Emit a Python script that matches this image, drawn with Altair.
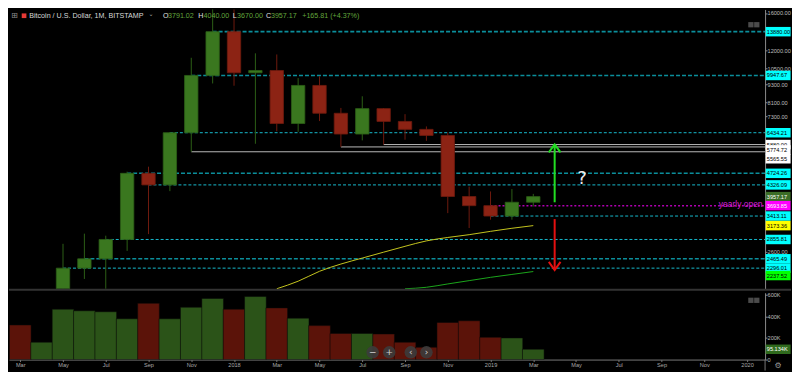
import altair as alt
import pandas as pd

# ---------------- data ----------------
candle_months = ["2017-05", "2017-06", "2017-07", "2017-08", "2017-09", "2017-10", "2017-11", "2017-12",
                 "2018-01", "2018-02", "2018-03", "2018-04", "2018-05", "2018-06", "2018-07", "2018-08",
                 "2018-09", "2018-10", "2018-11", "2018-12", "2019-01", "2019-02", "2019-03"]
opens = [1348, 2296.01, 2465.49, 2855.81, 4724.26, 4326.09, 6434.21, 9947.67,
         13880, 10150, 10330, 6900, 9220, 7460, 6370, 7730,
         7010, 6600, 6300, 3960, 3693.85, 3413.11, 3791.02]
highs = [2763, 2985, 2939, 4783, 4969, 6470, 11379, 19666,
         17176, 11770, 11670, 9750, 9890, 7770, 8490, 7760,
         7410, 6750, 6450, 4270, 4115, 4190, 4040]
lows = [1348, 2115, 1830, 2618, 2975, 4125, 5565.55, 9360,
        9200, 5915, 6510, 6480, 7030, 5774.72, 6070, 5880,
        6100, 6050, 3490, 3115, 3320, 3320, 3670]
closes = [2296.01, 2465.49, 2855.81, 4724.26, 4326.09, 6434.21, 9947.67, 13880,
          10150, 10330, 6900, 9220, 7460, 6370, 7730, 7010,
          6600, 6300, 3960, 3693.85, 3413.11, 3791.02, 3957.17]

vol_months = ["2017-03", "2017-04"] + candle_months
volumes = [320000, 161000, 466000, 451000, 442000, 377000, 520000, 377000, 484000, 565000,
           466000, 583000, 478000, 383000, 314000, 242000, 242000, 236000, 161000, 114000,
           343000, 359000, 206000, 200000, 95134]
vol_rising = [False, True] + [c >= o for o, c in zip(opens, closes)]

ma_yellow_months = ["2018-03", "2018-04", "2018-05", "2018-06", "2018-07", "2018-08", "2018-09",
                    "2018-10", "2018-11", "2018-12", "2019-01", "2019-02", "2019-03"]
ma_yellow = [1891, 2079, 2242, 2369, 2479, 2593, 2711, 2825, 2900, 2962, 3038, 3110, 3173.36]
ma_green_months = ["2018-09", "2018-10", "2018-11", "2018-12", "2019-01", "2019-02", "2019-03"]
ma_green = [1928, 1985, 2036, 2088, 2141, 2189, 2237.52]

level_prices = [13880, 9947.67, 6434.21, 4724.26, 4326.09, 3413.11, 2855.81, 2465.49, 2296.01]
level_start = ["2017-12", "2017-11", "2017-10", "2017-08", "2017-09", "2019-01", "2017-07", "2017-06", "2017-05"]
gray_prices = [5880, 5774.72, 5565.55]
gray_start = ["2018-08", "2018-06", "2017-11"]
yearly_open = 3693.85
yearly_open_start = "2019-01"

arrow_month = "2019-04"
arrow_from = [3790, 3335]
arrow_to = [5890, 2264]
question_price = 4520

price_ticks = [16000, 12000, 10500, 9300, 8100, 7300, 2600]
vol_ticks = [0, 200000, 400000, 600000]
x_tick_labels = ["Mar", "May", "Jul", "Sep", "Nov", "2018", "Mar", "May", "Jul", "Sep", "Nov",
                 "2019", "Mar", "May", "Jul", "Sep", "Nov", "2020"]

label_prices = [13880, 9947.67, 6434.21, 5880, 5774.72, 5565.55, 4724.26, 4326.09, 3957.17,
                3693.85, 3413.11, 3173.36, 2855.81, 2465.49, 2296.01, 2237.52]
label_kind = ["lvl", "lvl", "lvl", "gray", "gray", "gray", "lvl", "lvl", "last",
              "yopen", "lvl", "ma1", "lvl", "lvl", "lvl", "ma2"]

# ---------------- styles ----------------
W, HP, HV = 758, 280, 67
FONT = "Liberation Sans"
LBL = 5.6
UP, DOWN = "#3a771f", "#8c2314"
UP_EDGE, DOWN_EDGE = "#2c5e16", "#6e1a0e"
VUP, VDOWN = "#2b5318", "#5b1309"
heavy_levels = {13880, 9947.67, 4724.26, 2465.49}
box_style = {"lvl": ("#00ffff", "#000000"), "gray": ("#ffffff", "#000000"),
             "last": ("#3b6e27", "#ffffff"), "yopen": ("#ff00ff", "#ffffff"),
             "ma1": ("#ffff00", "#000000"), "ma2": ("#00ff00", "#000000")}
label_nudge = {5774.72: 3, 5565.55: 7, 2237.52: 4}
BOX = "M-1,-0.38L1,-0.38L1,0.38L-1,0.38Z"
BOX_SIZE = 625   # 25 px wide
BOX_X = 771.1
TXT_X = 759.8


def mi(m):
    y, mo = m.split("-")
    return (int(y) - 2017) * 12 + int(mo) - 3


XS = alt.Scale(domain=[-0.2935, 34.61], nice=False, zero=False)
PY = alt.Scale(type="log", domain=[1963, 16435], clamp=True, nice=False)
VY = alt.Scale(domain=[0, 618000], nice=False, zero=True)
XN = alt.X("i:Q", scale=XS, axis=None)

price_axis = alt.Axis(orient="right", values=price_ticks, format=".2f", labelFontSize=LBL,
                      labelColor="#bdbdbd", labelFont=FONT, tickSize=2, tickColor="#8a8a8a",
                      domainColor="#8a8a8a", labelPadding=0, grid=False, title=None,
                      labelOverlap=False, labelBaseline="middle", labelFlush=False)
vol_axis = alt.Axis(orient="right", values=vol_ticks,
                    labelExpr="datum.value == 0 ? '0' : format(datum.value/1000, 'd') + 'K'",
                    labelFontSize=LBL, labelColor="#bdbdbd", labelFont=FONT, tickSize=2,
                    tickColor="#8a8a8a", domainColor="#8a8a8a", labelPadding=0, grid=False,
                    title=None, labelOverlap=False, labelBaseline="middle", labelFlush=False)


def py(field):
    # every price layer carries the same axis definition so that they merge cleanly
    return alt.Y(field, scale=PY, axis=price_axis)


def vy(field):
    return alt.Y(field, scale=VY, axis=vol_axis)


one = pd.DataFrame({"k": [0]})


def txt(s, x, y, color, size=7.15, align="left", font=FONT):
    return alt.Chart(one).mark_text(text=s, fontSize=size, color=color, font=font, align=align,
                                    baseline="middle").encode(x=alt.value(x), y=alt.value(y))


# ---------------- price pane ----------------
cd = pd.DataFrame({"i": [mi(m) for m in candle_months], "open": opens, "high": highs,
                   "low": lows, "close": closes})
cd["fill"] = [UP if c >= o else DOWN for o, c in zip(opens, closes)]
cd["edge"] = [UP_EDGE if c >= o else DOWN_EDGE for o, c in zip(opens, closes)]

lv = pd.DataFrame({"i": [mi(m) for m in level_start], "p": level_prices})
lv_heavy = lv[lv["p"].isin(heavy_levels)]
lv_light = lv[~lv["p"].isin(heavy_levels)]
gl = pd.DataFrame({"i": [mi(m) for m in gray_start], "p": gray_prices})
yo = pd.DataFrame({"i": [mi(yearly_open_start)], "p": [yearly_open]})

layers = []
layers.append(alt.Chart(lv_heavy).mark_rule(color="#0b8e9b", strokeWidth=1.6, strokeDash=[4, 2]).encode(
    x=XN, x2=alt.value(W), y=py("p:Q")))
layers.append(alt.Chart(lv_light).mark_rule(color="#17b9cc", strokeWidth=1, strokeDash=[3, 2]).encode(
    x=XN, x2=alt.value(W), y=py("p:Q")))
layers.append(alt.Chart(gl).mark_rule(color="#b9b9b9", strokeWidth=1).encode(
    x=XN, x2=alt.value(W), y=py("p:Q")))
layers.append(alt.Chart(yo).mark_rule(color="#b000b0", strokeWidth=1.5, strokeDash=[2, 2]).encode(
    x=XN, x2=alt.value(W), y=py("p:Q")))

may = pd.DataFrame({"i": [mi(m) for m in ma_yellow_months], "p": ma_yellow})
mag = pd.DataFrame({"i": [mi(m) for m in ma_green_months], "p": ma_green})
layers.append(alt.Chart(may).mark_line(color="#c4c41e", strokeWidth=1, interpolate="monotone").encode(
    x=XN, y=py("p:Q")))
layers.append(alt.Chart(mag).mark_line(color="#1ba51b", strokeWidth=1, interpolate="monotone").encode(
    x=XN, y=py("p:Q")))

layers.append(alt.Chart(cd).mark_rule(strokeWidth=1).encode(
    x=XN, y=py("low:Q"), y2="high:Q", color=alt.Color("edge:N", scale=None)))
layers.append(alt.Chart(cd).mark_bar(width=13.4, strokeWidth=0.8).encode(
    x=XN, y=py("open:Q"), y2="close:Q",
    fill=alt.Fill("fill:N", scale=None), stroke=alt.Stroke("edge:N", scale=None)))

ar = pd.DataFrame({"i": [mi(arrow_month)] * 2, "a": arrow_from, "b": arrow_to,
                   "c": ["#22dd22", "#e51010"]})
layers.append(alt.Chart(ar).mark_rule(strokeWidth=2).encode(
    x=XN, y=py("a:Q"), y2="b:Q", color=alt.Color("c:N", scale=None)))
layers.append(alt.Chart(ar.iloc[[0]]).mark_point(shape="M-1,1.38L0,0L1,1.38", size=138, filled=False,
                                                 strokeWidth=2, opacity=1).encode(
    x=XN, y=py("b:Q"), color=alt.Color("c:N", scale=None)))
layers.append(alt.Chart(ar.iloc[[1]]).mark_point(shape="M-1,-1.38L0,0L1,-1.38", size=138, filled=False,
                                                 strokeWidth=2, opacity=1).encode(
    x=XN, y=py("b:Q"), color=alt.Color("c:N", scale=None)))

qd = pd.DataFrame({"i": [mi("2019-05")], "p": [question_price], "t": ["?"]})
layers.append(alt.Chart(qd).mark_text(fontSize=18, color="#ececec", font="DejaVu Sans", dx=6,
                                      baseline="middle").encode(x=XN, y=py("p:Q"), text="t:N"))
yod = pd.DataFrame({"p": [yearly_open], "t": ["yearly open"]})
layers.append(alt.Chart(yod).mark_text(fontSize=8.5, color="#d620d6", font=FONT, align="right",
                                       baseline="middle", dy=-2).encode(
    x=alt.value(755.5), y=py("p:Q"), text="t:N"))

for p, k in zip(label_prices, label_kind):
    bg, fg = box_style[k]
    nd = label_nudge.get(p, 0)
    d = pd.DataFrame({"p": [p], "t": [f"{p:.2f}"]})
    layers.append(alt.Chart(d).mark_point(shape=BOX, size=BOX_SIZE, filled=True, color=bg,
                                          opacity=1, yOffset=nd).encode(
        x=alt.value(BOX_X), y=py("p:Q")))
    layers.append(alt.Chart(d).mark_text(fontSize=LBL, color=fg, font=FONT, align="left",
                                         baseline="middle", yOffset=nd).encode(
        x=alt.value(TXT_X), y=py("p:Q"), text="t:N"))

# header and chrome of the price pane
GREENTXT = "#62a63c"
hy = 6.3
layers += [
    txt("⊞", 5.6, hy, "#8c8c8c", size=8, align="center", font="DejaVu Sans"),
    alt.Chart(one).mark_point(shape="square", size=22, filled=True, color="#e53935", opacity=1).encode(
        x=alt.value(15.1), y=alt.value(hy)),
    txt("Bitcoin / U.S. Dollar, 1M, BITSTAMP", 20.3, hy, "#d8d8d8"),
    txt("⌄", 139.8, hy - 1.5, "#aaaaaa", size=6, font="DejaVu Sans"),
    txt("O", 154.5, hy, "#e0e0e0"), txt("3791.02", 159.4, hy, GREENTXT),
    txt("H", 189.8, hy, "#e0e0e0"), txt("4040.00", 195, hy, GREENTXT),
    txt("L", 224.4, hy, "#e0e0e0"), txt("3670.00", 228.7, hy, GREENTXT),
    txt("C", 257.7, hy, "#e0e0e0"), txt("3957.17", 262.6, hy, GREENTXT),
    txt("+165.81 (+4.37%)", 294, hy, GREENTXT),
    alt.Chart(one).mark_rule(color="#333333", strokeWidth=2).encode(
        x=alt.value(0), x2=alt.value(784), y=alt.value(281)),
]
for cx in (743.8, 749.7):
    layers.append(alt.Chart(one).mark_point(shape="square", size=28, filled=True, color="#4b4b4b",
                                            opacity=1).encode(x=alt.value(cx), y=alt.value(15.3)))

price = alt.layer(*layers).properties(width=W, height=HP)

# ---------------- volume pane ----------------
vd = pd.DataFrame({"i": [mi(m) for m in vol_months], "v": volumes,
                   "fill": [VUP if r else VDOWN for r in vol_rising]})
label_js = "[" + ",".join("'" + s + "'" for s in x_tick_labels) + "]"
x_axis = alt.Axis(values=list(range(0, 35, 2)), labelExpr=label_js + "[round(datum.value/2)]",
                  labelFontSize=LBL, labelColor="#a8a8a8", labelFont=FONT, tickSize=2,
                  tickColor="#777", domainColor="#777", labelPadding=1, grid=False, title=None,
                  labelFlush=False, labelOverlap=False)
vlayers = [alt.Chart(vd).mark_bar(width=21.7, stroke="#080808", strokeWidth=0.5, clip=True).encode(
    x=alt.X("i:Q", scale=XS, axis=x_axis), y=vy("v:Q"),
    fill=alt.Fill("fill:N", scale=None))]
lastv = pd.DataFrame({"v": [volumes[-1]], "t": [f"{volumes[-1] / 1000:.3f}K"]})
vlayers.append(alt.Chart(lastv).mark_point(shape=BOX, size=BOX_SIZE, filled=True, color="#2f6a1d",
                                           opacity=1).encode(x=alt.value(BOX_X), y=vy("v:Q")))
vlayers.append(alt.Chart(lastv).mark_text(fontSize=LBL, color="#ffffff", font=FONT, align="left",
                                          baseline="middle").encode(
    x=alt.value(TXT_X), y=vy("v:Q"), text="t:N"))
for cx in (743.8, 749.7):
    vlayers.append(alt.Chart(one).mark_point(shape="square", size=28, filled=True, color="#4b4b4b",
                                             opacity=1).encode(x=alt.value(cx), y=alt.value(7.6)))
for cx, sym in ((364.6, "−"), (381.2, "+"), (402.8, "‹"), (418.5, "›")):
    vlayers.append(alt.Chart(one).mark_point(shape="circle", size=156, filled=True, color="#3c3c3c",
                                             opacity=0.9).encode(x=alt.value(cx), y=alt.value(59.7)))
    vlayers.append(txt(sym, cx, 59.5, "#d0d0d0", size=9, align="center", font="DejaVu Sans"))
vlayers.append(alt.Chart(one).mark_rule(color="#777777", strokeWidth=1).encode(
    x=alt.value(W), y=alt.value(HV), y2=alt.value(78)))
vlayers.append(txt("⚙", 771, 73, "#9a9a9a", size=8, align="center", font="DejaVu Sans"))

volume = alt.layer(*vlayers).properties(width=W, height=HV)

chart = alt.vconcat(price, volume, spacing=1).properties(padding=0).configure(
    background="#000000").configure_view(stroke=None)

chart.save("out.html", embed_options={"renderer": "svg", "actions": False})
